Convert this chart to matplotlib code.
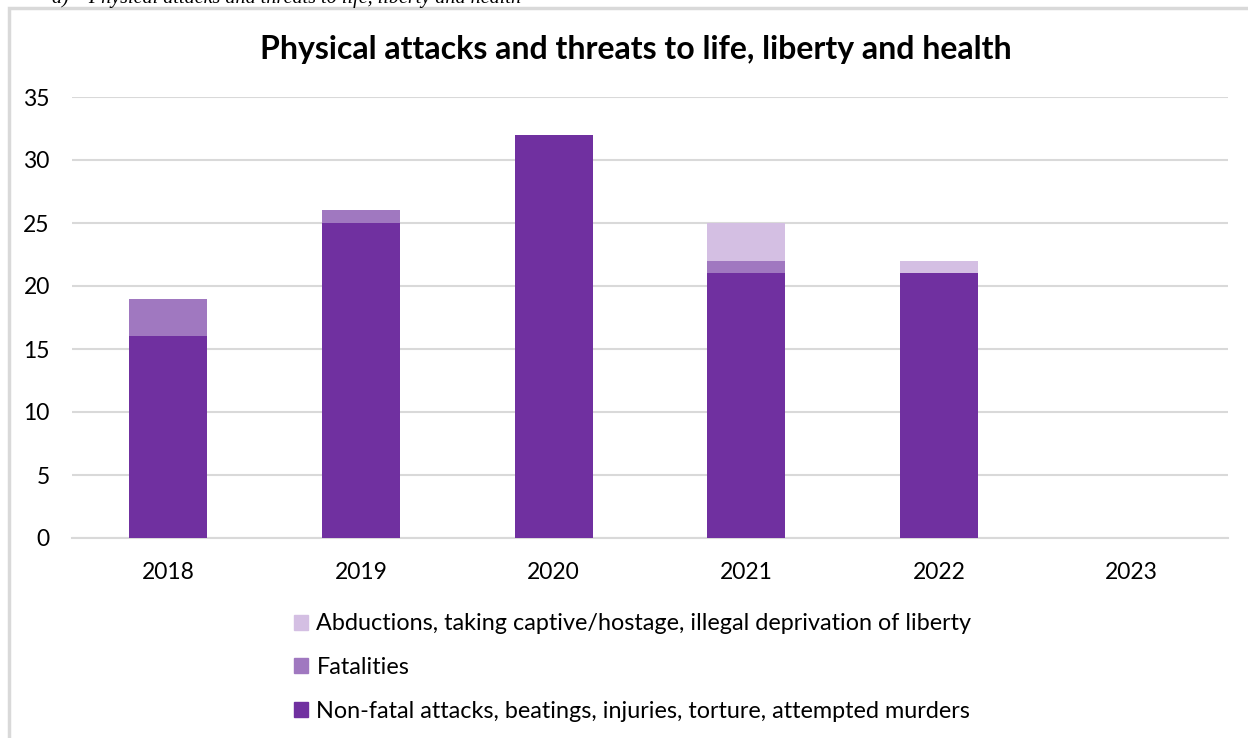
import matplotlib
matplotlib.use('Agg')
import matplotlib.pyplot as plt
import numpy as np
from matplotlib.patches import Rectangle, Patch

# data
years = ['2018', '2019', '2020', '2021', '2022', '2023']
non_fatal = [16, 25, 32, 21, 21, 0]
fatalities = [3, 1, 0, 1, 0, 0]
abductions = [0, 0, 0, 3, 1, 0]

labels = ['Abductions, taking captive/hostage, illegal deprivation of liberty',
          'Fatalities',
          'Non-fatal attacks, beatings, injuries, torture, attempted murders']
colors = ['#D4BFE3', '#A078C0', '#7030A0']

plt.rcParams['font.family'] = ['Lato', 'DejaVu Sans']

fig = plt.figure(figsize=(12.48, 7.38), dpi=100)
ax = fig.add_axes([72 / 1248, 1 - 538 / 738, 1156 / 1248, 441 / 738])

# outer frame of the chart box
fig.patches.append(Rectangle((9 / 1248, -0.1), 1.2, (738 - 8) / 738 + 0.1,
                             transform=fig.transFigure, fill=False,
                             edgecolor='#D9D9D9', linewidth=2.5, zorder=0))

# caption cut off at the top
fig.text(52 / 1248, 1 - 3 / 738, 'a)    Physical attacks and threats to life, liberty and health',
         family='Liberation Serif', style='italic', fontsize=14.5, va='baseline', ha='left')

x = np.arange(len(years))
w = 0.405
bottom2 = np.array(non_fatal) + np.array(fatalities)
ax.bar(x, non_fatal, w, color=colors[2], zorder=3)
ax.bar(x, fatalities, w, bottom=non_fatal, color=colors[1], zorder=3)
ax.bar(x, abductions, w, bottom=bottom2, color=colors[0], zorder=3)

ax.set_xlim(-0.5, len(years) - 0.5)
ax.set_ylim(0, 35)
ax.set_yticks(range(0, 36, 5))
ax.set_xticks(x)
ax.set_xticklabels(years)
ax.yaxis.grid(True, color='#D9D9D9', linewidth=1.5, zorder=0)
for s in ax.spines.values():
    s.set_visible(False)
ax.spines['bottom'].set_visible(True)
ax.spines['bottom'].set_color('#D9D9D9')
ax.spines['bottom'].set_linewidth(1.5)
ax.tick_params(axis='both', length=0, labelsize=16.5, colors='black')
ax.tick_params(axis='y', pad=16)
ax.tick_params(axis='x', pad=17)

fig.text(636 / 1248, 1 - 49 / 738, 'Physical attacks and threats to life, liberty and health',
         fontsize=23, fontweight='bold', ha='center', va='center')

handles = [Patch(color=c) for c in colors]
fig.legend(handles, labels, loc='upper left', bbox_to_anchor=(285 / 1248, 1 - 604 / 738),
           frameon=False, fontsize=16.8, handlelength=0.6, handleheight=0.6,
           handletextpad=0.35, labelspacing=0.97, borderaxespad=0)

fig.savefig('out.png', dpi=100)
